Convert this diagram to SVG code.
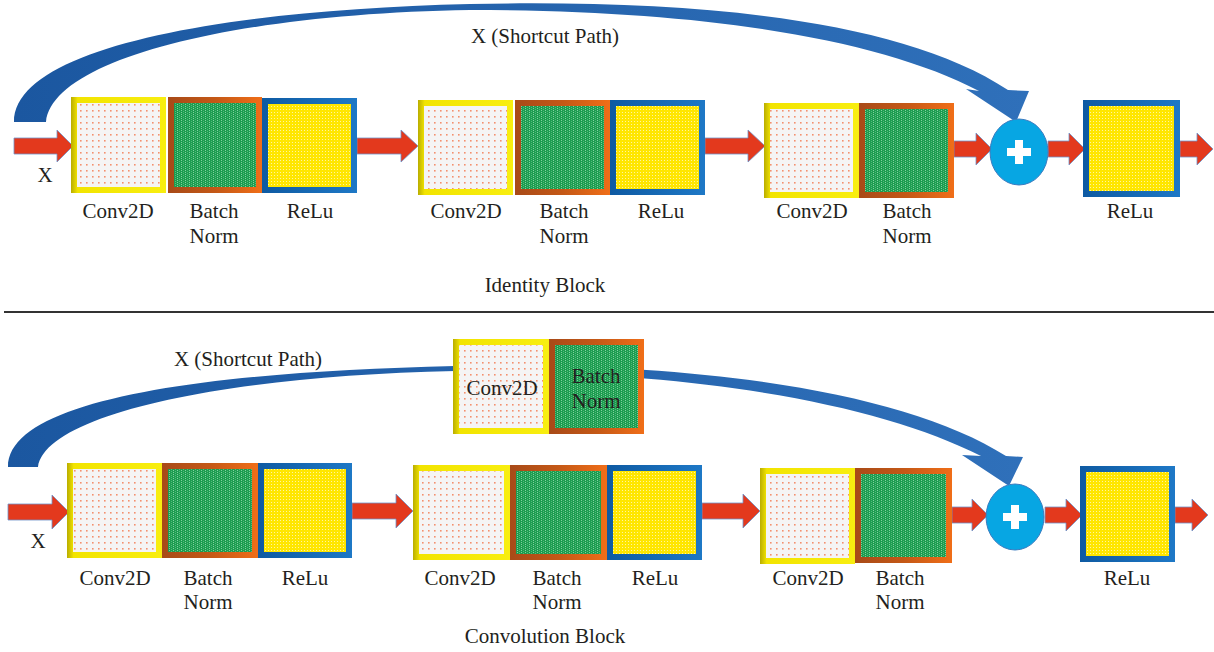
<svg xmlns="http://www.w3.org/2000/svg" width="1214" height="652" viewBox="0 0 1214 652">
<defs>
<pattern id="pDots" width="6" height="6" patternUnits="userSpaceOnUse"><rect width="6" height="6" fill="#f5f4f4"/><rect x="2" y="2" width="1.6" height="1.6" fill="#f4906e"/></pattern>
<pattern id="pGreen" width="4" height="2" patternUnits="userSpaceOnUse"><rect width="4" height="2" fill="#1d9c50"/><rect x="1" y="0" width="1" height="1" fill="#7fd29e"/><rect x="3" y="1" width="1" height="1" fill="#52bb7a"/></pattern>
<pattern id="pYellow" width="3" height="3" patternUnits="userSpaceOnUse"><rect width="3" height="3" fill="#ffe600"/><rect x="1" y="1" width="1" height="1" fill="#fff4a0"/></pattern>
<linearGradient id="gConv" x1="0" y1="0" x2="1" y2="0"><stop offset="0" stop-color="#b9ad00"/><stop offset="0.07" stop-color="#f2e400"/><stop offset="1" stop-color="#f8ee10"/></linearGradient>
<linearGradient id="gBN" x1="0" y1="0" x2="1" y2="0"><stop offset="0" stop-color="#a84a18"/><stop offset="0.5" stop-color="#c45816"/><stop offset="1" stop-color="#f06e18"/></linearGradient>
<linearGradient id="gRelu" x1="0" y1="0" x2="1" y2="0"><stop offset="0" stop-color="#0e5aa2"/><stop offset="1" stop-color="#1e78c6"/></linearGradient>
<linearGradient id="gArc" x1="0" y1="0" x2="1" y2="0"><stop offset="0" stop-color="#1b57a0"/><stop offset="1" stop-color="#2f70ba"/></linearGradient>
</defs>
<style>
.conv{fill:url(#gConv)}
.convIn{fill:url(#pDots)}
.bn{fill:url(#gBN)}
.bnIn{fill:url(#pGreen)}
.relu{fill:url(#gRelu)}
.reluIn{fill:url(#pYellow)}
.arr{fill:#e3391d;stroke:#6f93c9;stroke-width:0.8}
.arc{fill:url(#gArc)}
.add{fill:#07a6e3;stroke:#3b7cc0;stroke-width:1}
.plus{fill:#ffffff}
text{font-family:"Liberation Serif","Times New Roman",serif;font-size:21px;fill:#231f20;text-anchor:middle}
</style>
<rect width="1214" height="652" fill="#ffffff"/>

<g id="connectors">
<path class="arc" d="M 14,122 C 14,48 220,10 470,4 C 710,-1 905,22 1008,90 L 1029,91 L 1016,122 L 966,89 L 979,91 C 878,38 700,10 470,10 C 230,14 52,60 46,122 Z"/>
<path class="arc" d="M 8,467 C 8,400 200,372 455,366 C 700,361 905,392 1006,456 L 1023,457 L 1009,486 L 962,455 L 981,456 C 878,404 700,371 455,371 C 220,376 45,415 38,467 Z"/>
<polygon class="arr" points="14,138 57,138 57,130 73,146 57,162 57,154 14,154"/>
<polygon class="arr" points="357,138 401,138 401,130 418,146 401,162 401,154 357,154"/>
<polygon class="arr" points="705,138 748,138 748,130 765,146 748,162 748,154 705,154"/>
<polygon class="arr" points="954,141 976,141 976,133 992,149 976,165 976,157 954,157"/>
<polygon class="arr" points="1048,141 1069,141 1069,133 1085,149 1069,165 1069,157 1048,157"/>
<polygon class="arr" points="1180,141 1197,141 1197,133 1213,149 1197,165 1197,157 1180,157"/>
<polygon class="arr" points="8,504 52,504 52,495 69,512 52,529 52,520 8,520"/>
<polygon class="arr" points="352,503 396,503 396,494 413,511 396,528 396,519 352,519"/>
<polygon class="arr" points="702,503 743,503 743,494 760,511 743,528 743,519 702,519"/>
<polygon class="arr" points="952,507 972,507 972,499 988,515 972,531 972,523 952,523"/>
<polygon class="arr" points="1045,507 1066,507 1066,499 1082,515 1066,531 1066,523 1045,523"/>
<polygon class="arr" points="1175,507 1192,507 1192,499 1208,515 1192,531 1192,523 1175,523"/>
</g>

<g id="identity-conv1"><rect class="conv" x="71" y="97" width="95" height="96"/><rect class="convIn" x="77" y="103" width="83" height="84"/><text x="118" y="218">Conv2D</text></g>
<g id="identity-bn1"><rect class="bn" x="168" y="97" width="94" height="96"/><rect class="bnIn" x="174" y="103" width="82" height="84"/><text x="214" y="218">Batch</text><text x="214" y="243">Norm</text></g>
<g id="identity-relu1"><rect class="relu" x="262" y="98" width="95" height="95"/><rect class="reluIn" x="268" y="104" width="83" height="83"/><text x="310" y="218">ReLu</text></g>
<g id="identity-conv2"><rect class="conv" x="418" y="100" width="95" height="95"/><rect class="convIn" x="424" y="106" width="83" height="83"/><text x="466" y="218">Conv2D</text></g>
<g id="identity-bn2"><rect class="bn" x="515" y="100" width="95" height="95"/><rect class="bnIn" x="521" y="106" width="83" height="83"/><text x="564" y="218">Batch</text><text x="564" y="243">Norm</text></g>
<g id="identity-relu2"><rect class="relu" x="610" y="100" width="95" height="95"/><rect class="reluIn" x="616" y="106" width="83" height="83"/><text x="661" y="218">ReLu</text></g>
<g id="identity-conv3"><rect class="conv" x="764" y="103" width="95" height="95"/><rect class="convIn" x="770" y="109" width="83" height="83"/><text x="812" y="218">Conv2D</text></g>
<g id="identity-bn3"><rect class="bn" x="859" y="103" width="95" height="95"/><rect class="bnIn" x="865" y="109" width="83" height="83"/><text x="907" y="218">Batch</text><text x="907" y="243">Norm</text></g>
<g id="identity-add"><ellipse class="add" cx="1019" cy="152" rx="29" ry="33"/><path class="plus" d="M1015,140 h8 v8 h8 v8 h-8 v8 h-8 v-8 h-8 v-8 h8 Z"/></g>
<g id="identity-relu-out"><rect class="relu" x="1083" y="100" width="97" height="97"/><rect class="reluIn" x="1089" y="106" width="85" height="85"/><text x="1130" y="218">ReLu</text></g>
<text x="545" y="43">X (Shortcut Path)</text>
<text x="45" y="182">X</text>
<text x="545" y="292">Identity Block</text>

<line x1="4" y1="312" x2="1214" y2="312" stroke="#333333" stroke-width="2"/>

<g id="conv-conv1"><rect class="conv" x="67" y="463" width="95" height="95"/><rect class="convIn" x="73" y="469" width="83" height="83"/><text x="115" y="585">Conv2D</text></g>
<g id="conv-bn1"><rect class="bn" x="162" y="463" width="96" height="95"/><rect class="bnIn" x="168" y="469" width="84" height="83"/><text x="208" y="585">Batch</text><text x="208" y="609">Norm</text></g>
<g id="conv-relu1"><rect class="relu" x="258" y="463" width="94" height="95"/><rect class="reluIn" x="264" y="469" width="82" height="83"/><text x="305" y="585">ReLu</text></g>
<g id="conv-conv2"><rect class="conv" x="413" y="465" width="97" height="95"/><rect class="convIn" x="419" y="471" width="85" height="83"/><text x="460" y="585">Conv2D</text></g>
<g id="conv-bn2"><rect class="bn" x="510" y="465" width="97" height="95"/><rect class="bnIn" x="516" y="471" width="85" height="83"/><text x="557" y="585">Batch</text><text x="557" y="609">Norm</text></g>
<g id="conv-relu2"><rect class="relu" x="607" y="465" width="95" height="95"/><rect class="reluIn" x="613" y="471" width="83" height="83"/><text x="655" y="585">ReLu</text></g>
<g id="conv-conv3"><rect class="conv" x="760" y="468" width="95" height="96"/><rect class="convIn" x="766" y="474" width="83" height="84"/><text x="808" y="585">Conv2D</text></g>
<g id="conv-bn3"><rect class="bn" x="855" y="468" width="97" height="95"/><rect class="bnIn" x="861" y="474" width="85" height="83"/><text x="900" y="585">Batch</text><text x="900" y="609">Norm</text></g>
<g id="conv-add"><ellipse class="add" cx="1015" cy="517" rx="29" ry="33"/><path class="plus" d="M1011,505 h8 v8 h8 v8 h-8 v8 h-8 v-8 h-8 v-8 h8 Z"/></g>
<g id="conv-relu-out"><rect class="relu" x="1080" y="466" width="95" height="96"/><rect class="reluIn" x="1086" y="472" width="83" height="84"/><text x="1127" y="585">ReLu</text></g>
<g id="shortcut-conv"><rect class="conv" x="453" y="339" width="96" height="95"/><rect class="convIn" x="459" y="345" width="84" height="83"/><text x="502" y="395">Conv2D</text></g>
<g id="shortcut-bn"><rect class="bn" x="549" y="339" width="95" height="95"/><rect class="bnIn" x="555" y="345" width="83" height="83"/><text x="596" y="383">Batch</text><text x="596" y="408">Norm</text></g>
<text x="248" y="366">X (Shortcut Path)</text>
<text x="38" y="548">X</text>
<text x="545" y="643">Convolution Block</text>
</svg>
